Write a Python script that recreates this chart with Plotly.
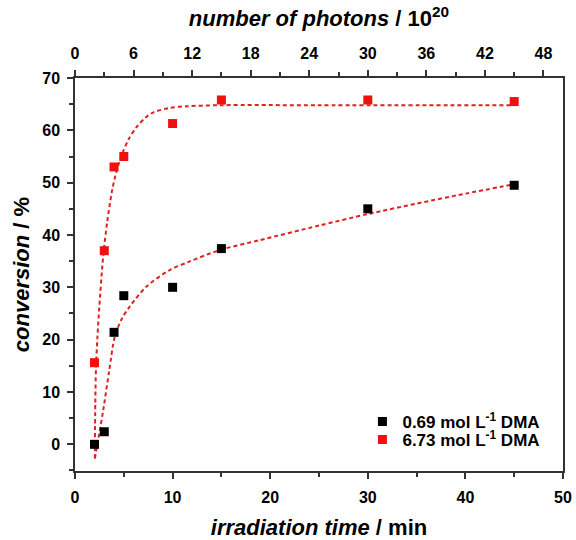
import plotly.graph_objects as go

# measured data
time_min = [2, 3, 4, 5, 10, 15, 30, 45]
conv_low = [0, 2.4, 21.4, 28.4, 30.0, 37.4, 45.0, 49.5]     # 0.69 mol/L DMA
conv_high = [15.6, 37.0, 53.0, 55.0, 61.3, 65.8, 65.8, 65.5]  # 6.73 mol/L DMA

# fit curves
fit_low_t = [2.04, 2.5, 2.9, 3.5, 4.08, 4.8, 5.6, 7.3, 9.7, 11.7, 14.8, 18.9, 25, 30, 35, 40, 45]
fit_low_y = [-2.7, 2.2, 6.6, 14.0, 20.6, 24.0, 26.3, 30.1, 33.3, 34.9, 37.1, 39.0, 41.8, 44.0, 46.0, 47.9, 49.7]
fit_high_t = [2.03, 2.08, 2.15, 2.3, 2.48, 2.89, 3.3, 3.8, 4.3, 4.9, 5.5, 6.3, 7.2, 8.0, 9.7, 11.5, 15, 25, 45]
fit_high_y = [-2.7, 8.0, 14.5, 20.5, 26.0, 36.0, 42.5, 48.5, 52.5, 55.8, 58.3, 60.6, 62.4, 63.4, 64.3, 64.6, 64.8, 64.8, 64.8]

x_ticks = [0, 10, 20, 30, 40, 50]
y_ticks = [0, 10, 20, 30, 40, 50, 60, 70]
photon_ticks = [0, 6, 12, 18, 24, 30, 36, 42, 48]

FONT = "Liberation Sans, Arial, sans-serif"
RED = "#f01010"
FITRED = "#dd2222"
AX = "#333333"

fig = go.Figure()
fig.add_trace(go.Scatter(x=fit_low_t, y=fit_low_y, mode="lines", showlegend=False,
                         line=dict(color=FITRED, width=2, dash="4px,3px", shape="spline", smoothing=0.8)))
fig.add_trace(go.Scatter(x=fit_high_t, y=fit_high_y, mode="lines", showlegend=False,
                         line=dict(color=FITRED, width=2, dash="4px,3px", shape="spline", smoothing=0.8)))
fig.add_trace(go.Scatter(x=time_min, y=conv_low, mode="markers", name="0.69 mol L<sup>-1</sup> DMA",
                         legend="legend",
                         marker=dict(symbol="square", size=9, color="black", line=dict(width=0))))
fig.add_trace(go.Scatter(x=time_min, y=conv_high, mode="markers", name="6.73 mol L<sup>-1</sup> DMA",
                         legend="legend2",
                         marker=dict(symbol="square", size=9, color=RED, line=dict(width=0))))
# invisible trace to activate top axis
fig.add_trace(go.Scatter(x=[0, 50], y=[0, 0], xaxis="x2", mode="markers", marker=dict(opacity=0),
                         showlegend=False, hoverinfo="skip"))

tickfont = dict(family=FONT, size=16, color="black", weight="bold")
titlefont = dict(family=FONT, size=22, color="black", weight="bold")
legfont = dict(family=FONT, size=17, color="black", weight="bold")
axcommon = dict(showgrid=False, zeroline=False, showline=True, linecolor=AX, linewidth=1.5,
                ticks="outside", tickcolor=AX, tickwidth=1.5, ticklen=6, tickfont=tickfont,
                automargin=False)
minor = lambda d: dict(dtick=d, ticks="outside", ticklen=4, tickcolor=AX, tickwidth=1.5)

fig.update_layout(
    width=576, height=540,
    margin=dict(l=75, r=13, t=78, b=69),
    plot_bgcolor="white", paper_bgcolor="white",
    font=dict(family=FONT, color="black"),
    xaxis=dict(range=[0, 50], tickvals=x_ticks, minor=minor(5), ticklabelstandoff=5,
               title=dict(text="<i>irradiation time</i> / min", font=titlefont, standoff=17),
               **axcommon),
    xaxis2=dict(range=[0, 50], overlaying="x", side="top", tickvals=photon_ticks, minor=minor(3),
                ticklabelstandoff=5,
                title=dict(text="<i>number of photons</i> / 10<sup>20</sup>", font=titlefont, standoff=12),
                **axcommon),
    yaxis=dict(range=[-5.1, 70], tickvals=y_ticks, mirror=True, minor=minor(5), ticklabelstandoff=4,
               title=dict(text="<i>conversion</i> / %", font=titlefont, standoff=7),
               **axcommon),
    legend=dict(x=0.589, y=0.125, xanchor="left", yanchor="middle", font=legfont,
                bgcolor="rgba(0,0,0,0)", itemwidth=30),
    legend2=dict(x=0.589, y=0.079, xanchor="left", yanchor="middle", font=legfont,
                 bgcolor="rgba(0,0,0,0)", itemwidth=30),
)

# remove the default 8px page margin so the figure fills the window exactly
fig.write_html("out.html", config={"displayModeBar": False},
               post_script="document.body.style.margin='0';document.body.style.overflow='hidden';")
